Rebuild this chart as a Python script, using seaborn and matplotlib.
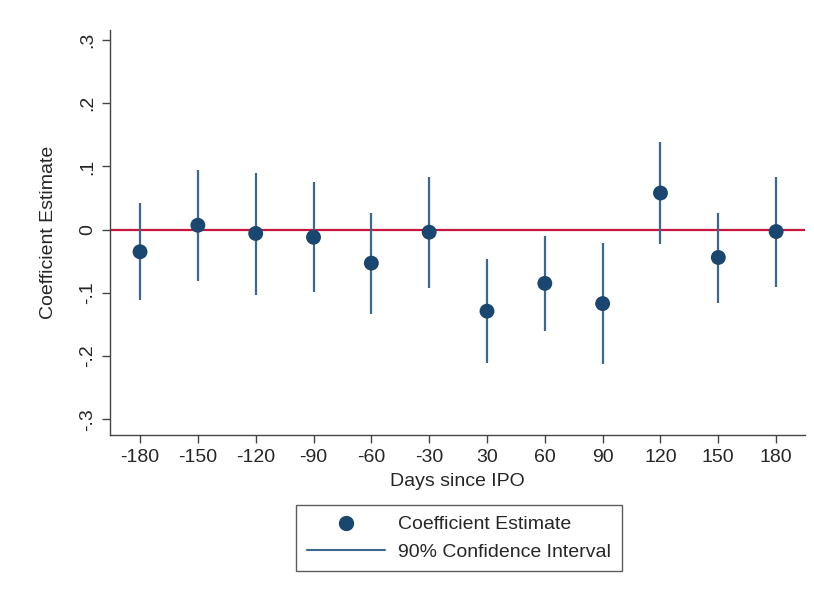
import numpy as np
import pandas as pd
import seaborn as sns
import matplotlib.pyplot as plt
from matplotlib.lines import Line2D

# данные
days = ['-180', '-150', '-120', '-90', '-60', '-30', '30', '60', '90', '120', '150', '180']
coef = [-0.035, 0.007, -0.006, -0.012, -0.053, -0.004, -0.129, -0.085, -0.117, 0.058, -0.044, -0.003]
ci_low = [-0.111, -0.081, -0.103, -0.099, -0.134, -0.092, -0.211, -0.160, -0.212, -0.022, -0.116, -0.090]
ci_high = [0.042, 0.095, 0.090, 0.076, 0.027, 0.084, -0.046, -0.010, -0.021, 0.138, 0.027, 0.084]

df = pd.DataFrame({'days': days, 'coef': coef, 'lo': ci_low, 'hi': ci_high})

sns.set_style('ticks')
plt.rcParams['font.family'] = ['Liberation Sans', 'DejaVu Sans']

navy = '#1a476f'
ci_col = '#3b6791'
red = '#c8163f'
fs = 14

fig = plt.figure(figsize=(8.14, 5.95), dpi=100)
ax = fig.add_axes([0.1351, 0.2689, 0.8539, 0.6807])

# горизонтальная линия нуля
ax.axhline(0, color=red, lw=1.6, zorder=1)

# доверительные интервалы
ax.vlines(np.arange(len(df)), df['lo'], df['hi'], color=ci_col, lw=1.6, zorder=2)

# точечные оценки
sns.scatterplot(x='days', y='coef', data=df, ax=ax, color=navy, s=115,
                edgecolor='none', zorder=3, legend=False)

ax.set_xlim(-0.52, 11.5)
ax.set_ylim(-0.325, 0.316)
yt = [-0.3, -0.2, -0.1, 0, 0.1, 0.2, 0.3]
ax.set_yticks(yt)
ax.set_yticklabels(['-.3', '-.2', '-.1', '0', '.1', '.2', '.3'], rotation=90, va='center')
ax.tick_params(axis='both', labelsize=fs, length=6, width=1, color='#444444')
ax.tick_params(axis='x', pad=4)
ax.tick_params(axis='y', pad=4)

ax.set_xlabel('Days since IPO', fontsize=fs, labelpad=5)
ax.set_ylabel('Coefficient Estimate', fontsize=fs, labelpad=16)

sns.despine(ax=ax)
for sp in ['left', 'bottom']:
    ax.spines[sp].set_color('#444444')
    ax.spines[sp].set_linewidth(1)

handles = [
    Line2D([], [], marker='o', color=navy, linestyle='none', markersize=10),
    Line2D([], [], color=ci_col, lw=1.5),
]
leg = ax.legend(handles, ['Coefficient Estimate', '90% Confidence Interval'],
                loc='upper center', bbox_to_anchor=(0.502, -0.173), fontsize=fs,
                frameon=True, fancybox=False, edgecolor='#333333',
                handlelength=4.0, handletextpad=0.7, borderpad=0.55,
                labelspacing=0.5, borderaxespad=0)
leg.get_frame().set_linewidth(1)

fig.savefig('out.png', dpi=100)
